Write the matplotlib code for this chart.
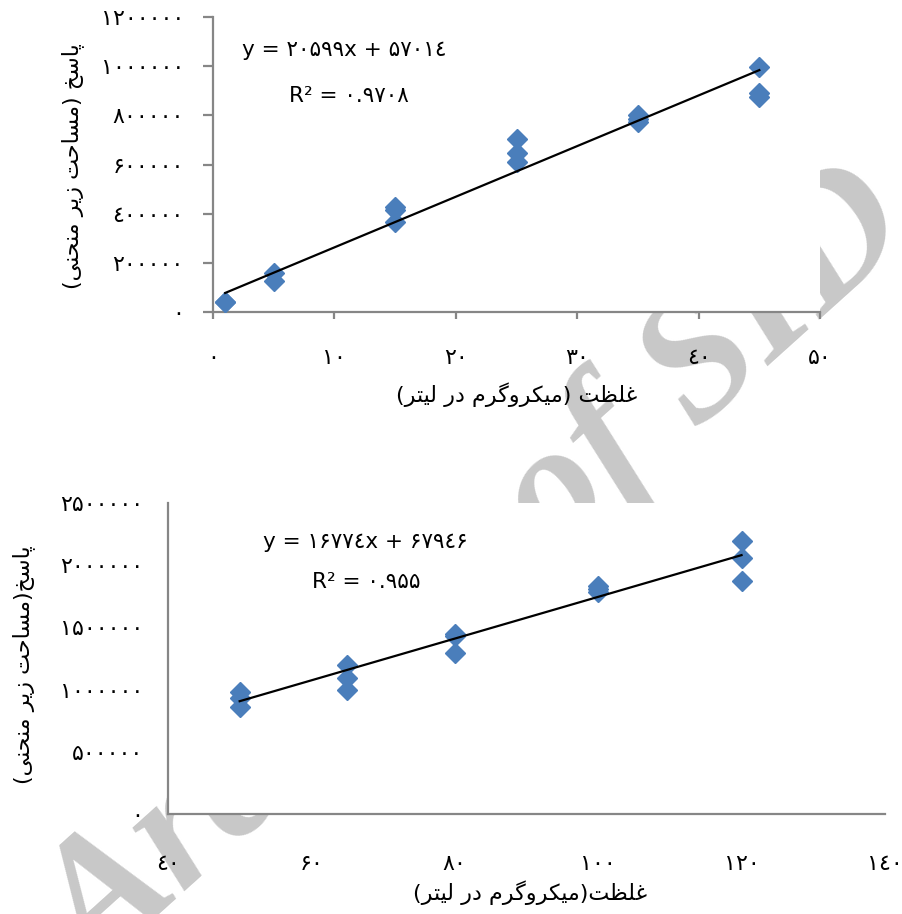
import numpy as np
import matplotlib
matplotlib.use("Agg")
import matplotlib.pyplot as plt
from matplotlib.ticker import FuncFormatter

# chart 1 (low range)
conc1 = [1, 1, 5, 5, 15, 15, 15, 25, 25, 25, 35, 35, 35, 45, 45, 45]
resp1 = [41000, 39000, 158000, 125000, 428000, 415000, 368000,
         703000, 648000, 611000, 801000, 787000, 774000, 998000, 890000, 876000]
slope1, icpt1, r2_1 = 20599, 57014, "0.9708"

# chart 2 (high range)
conc2 = [50, 50, 50, 65, 65, 65, 80, 80, 80, 100, 100, 100, 120, 120, 120]
resp2 = [983000, 930000, 858000, 1198000, 1091000, 997000, 1450000, 1430000, 1297000,
         1830000, 1810000, 1787000, 2195000, 2060000, 1873000]
slope2, icpt2, r2_2 = 16774, 67946, "0.955"

xlabel1 = "غلظت (میکروگرم در لیتر)"
xlabel2 = "غلظت(میکروگرم در لیتر)"
ylabel1 = "پاسخ (مساحت زیر منحنی)"
ylabel2 = "پاسخ(مساحت زیر منحنی)"

# --- minimal Persian shaping (matplotlib has no complex text layout) ---
FORMS = {  # isolated, final, initial, medial
    "ا": (0xFE8D, 0xFE8E), "د": (0xFEA9, 0xFEAA), "ر": (0xFEAD, 0xFEAE),
    "ز": (0xFEAF, 0xFEB0), "و": (0xFEED, 0xFEEE),
    "پ": (0xFB56, 0xFB57, 0xFB58, 0xFB59), "ت": (0xFE95, 0xFE96, 0xFE97, 0xFE98),
    "ح": (0xFEA1, 0xFEA2, 0xFEA3, 0xFEA4), "خ": (0xFEA5, 0xFEA6, 0xFEA7, 0xFEA8),
    "س": (0xFEB1, 0xFEB2, 0xFEB3, 0xFEB4), "ظ": (0xFEC5, 0xFEC6, 0xFEC7, 0xFEC8),
    "غ": (0xFECD, 0xFECE, 0xFECF, 0xFED0), "ک": (0xFB8E, 0xFB8F, 0xFB90, 0xFB91),
    "گ": (0xFB92, 0xFB93, 0xFB94, 0xFB95), "ل": (0xFEDD, 0xFEDE, 0xFEDF, 0xFEE0),
    "م": (0xFEE1, 0xFEE2, 0xFEE3, 0xFEE4), "ن": (0xFEE5, 0xFEE6, 0xFEE7, 0xFEE8),
    "ی": (0xFBFC, 0xFBFD, 0xFBFE, 0xFBFF),
}


def shape(text):
    out = []
    for i, c in enumerate(text):
        if c not in FORMS:
            out.append({"(": ")", ")": "("}.get(c, c))
            continue
        prev = text[i - 1] if i > 0 else ""
        nxt = text[i + 1] if i + 1 < len(text) else ""
        jp = prev in FORMS and len(FORMS[prev]) == 4
        jn = len(FORMS[c]) == 4 and nxt in FORMS
        f = FORMS[c]
        idx = 3 if (jp and jn) else 1 if jp else 2 if jn else 0
        out.append(chr(f[idx]))
    return "".join(reversed(out))


DIG = dict(zip("0123456789", "٠١٢٣٤۵۶٧٨٩"))


def fa(s):
    return "".join(DIG.get(c, c) for c in str(s))


plt.rcParams["font.family"] = ["DejaVu Sans"]
blue = "#4a7ebb"
gray = "#868686"

fig = plt.figure(figsize=(9.03, 9.14), dpi=100)
fig.patch.set_facecolor("white")

# watermark, sits behind the white plot areas
fig.text(0.53, 0.37, "Archive of SID", rotation=42, fontsize=128, color="#c8c8c8",
         family="Liberation Serif", style="italic", weight="bold",
         ha="center", va="center", zorder=-5)

ax1 = fig.add_axes([0.2359, 0.6586, 0.6722, 0.3228])
ax2 = fig.add_axes([0.1860, 0.1094, 0.7940, 0.3403])

panels = [
    (ax1, conc1, resp1, slope1, icpt1, r2_1, (0, 50), np.arange(0, 51, 10),
     (0, 1200000), np.arange(0, 1200001, 200000), xlabel1, ylabel1,
     (0.217, 0.888), (0.224, 0.732), (0.501, -0.281), (-0.231, 0.495)),
    (ax2, conc2, resp2, slope2, icpt2, r2_2, (40, 140), np.arange(40, 141, 20),
     (0, 2500000), np.arange(0, 2500001, 500000), xlabel2, ylabel2,
     (0.276, 0.875), (0.276, 0.746), (0.505, -0.254), (-0.201, 0.479)),
]

for (ax, cx, ry, m, b, r2, xl, xt, yl, yt, xlab, ylab,
     eq_pos, r2_pos, xlab_pos, ylab_pos) in panels:
    ax.set_facecolor("white")
    ax.plot(cx, ry, "D", ms=10.5, color=blue, mec=blue, zorder=3)
    xs = np.array([min(cx), max(cx)])
    ax.plot(xs, m * xs + b, color="black", lw=1.6, zorder=4)
    ax.set_xlim(*xl)
    ax.set_ylim(*yl)
    ax.set_xticks(xt)
    ax.set_yticks(yt)
    ax.xaxis.set_major_formatter(FuncFormatter(lambda v, p: fa(int(round(v)))))
    ax.yaxis.set_major_formatter(FuncFormatter(lambda v, p: fa(int(round(v)))))
    for s in ["top", "right"]:
        ax.spines[s].set_visible(False)
    for s in ["left", "bottom"]:
        ax.spines[s].set_color(gray)
        ax.spines[s].set_linewidth(1.6)
    ax.text(*eq_pos, "y = " + fa(m) + "x + " + fa(b), transform=ax.transAxes,
            ha="center", va="center", fontsize=15.5)
    ax.text(*r2_pos, "R² = " + fa(r2), transform=ax.transAxes,
            ha="center", va="center", fontsize=15.5)
    ax.set_xlabel(shape(xlab), fontsize=16, va="center")
    ax.set_ylabel(shape(ylab), fontsize=16, va="center")
    ax.xaxis.set_label_coords(*xlab_pos)
    ax.yaxis.set_label_coords(*ylab_pos)

ax1.tick_params(axis="y", length=7, width=1.6, color=gray, pad=14, labelsize=16)
ax1.tick_params(axis="x", length=5, width=1.6, color=gray, pad=21, labelsize=16)
ax2.tick_params(axis="y", length=0, pad=18, labelsize=16)
ax2.tick_params(axis="x", length=0, pad=29, labelsize=16)

fig.savefig("out.png", dpi=100, facecolor="white")
